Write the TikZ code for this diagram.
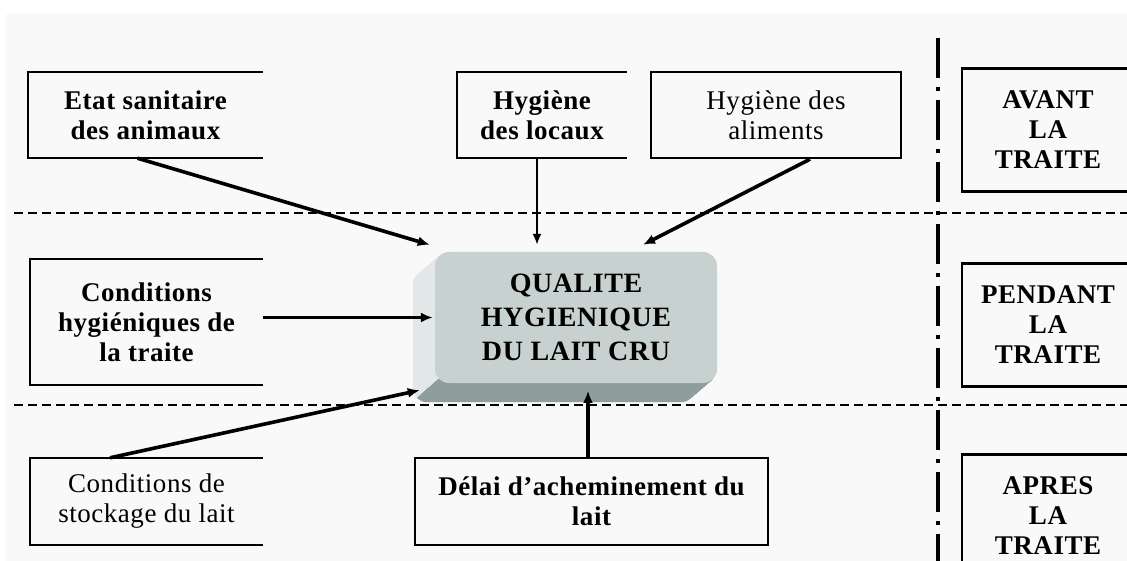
\documentclass[tikz,border=0pt]{standalone}
\usepackage{fontspec}
\setmainfont{Liberation Serif}
\newfontfamily\boxfont[LetterSpace=2]{Liberation Serif}
\usetikzlibrary{arrows.meta,calc,backgrounds}

\definecolor{pagebg}{RGB}{249,249,249}
\definecolor{facecol}{RGB}{199,209,208}
\definecolor{sidelight}{RGB}{226,232,232}
\definecolor{sidedark}{RGB}{143,158,156}

\tikzset{
  lbl/.style={font=\boxfont\fontsize{27}{30}\selectfont\bfseries, align=center, inner sep=0pt},
  lblreg/.style={font=\boxfont\fontsize{27}{30}\selectfont, align=center, inner sep=0pt},
  frame/.style={draw, line width=2.4pt},
  openside/.style={line width=2.4pt},
  arr/.style={-{Latex[length=12pt,width=10pt]}, line width=3.6pt},
  arrthin/.style={-{Latex[length=11pt,width=9pt]}, line width=2pt},
  sep/.style={line width=2pt, dash pattern=on 9pt off 5pt},
  phase/.style={line width=4pt, dash pattern=on 40pt off 9pt on 4pt off 9pt},
  facebox/.style={fill=facecol, rounded corners=14pt, minimum width=282pt, minimum height=131pt,
    inner sep=0pt, align=center, font=\boxfont\fontsize{28}{34}\selectfont\bfseries}
}

\begin{document}
\begin{tikzpicture}[x=1pt,y=-1pt]
\useasboundingbox (0,0) rectangle (1127,561);

% factor boxes, top row
\node[lbl, minimum width=235pt, minimum height=86pt] (etat) at (145.5,115) {Etat sanitaire\\des animaux};
\node[lbl, minimum width=170pt, minimum height=86pt] (locaux) at (542,115) {Hygiène\\des locaux};
\node[lblreg, frame, minimum width=250pt, minimum height=86pt] (aliments) at (776,115) {Hygiène des\\aliments};

% factor boxes, middle row
\node[lbl, minimum width=233pt, minimum height=125pt] (traite) at (146.5,322) {Conditions\\hygiéniques de\\la traite};

% central result
\node[facebox] (q) at (576,317.5) {QUALITE\\HYGIENIQUE\\DU LAIT CRU};

% factor boxes, bottom row
\node[lblreg, minimum width=233pt, minimum height=87pt] (stockage) at (146.5,501.5) {Conditions de\\stockage du lait};
\node[lbl, frame, minimum width=353pt, minimum height=87pt] (delai) at (591.5,501.5) {Délai d’acheminement du\\lait};

% phase boxes on the right
\node[lbl, frame, minimum width=172pt, minimum height=123pt] (avant) at (1048,130) {AVANT\\LA\\TRAITE};
\node[lbl, frame, minimum width=172pt, minimum height=123pt] (pendant) at (1048,325) {PENDANT\\LA\\TRAITE};
\node[lbl, frame, minimum width=172pt, minimum height=123pt] (apres) at (1048,516) {APRES\\LA\\TRAITE};

% boxes left open on their right side
\foreach \b in {etat,locaux,traite,stockage}
  \draw[openside] (\b.north east) -- (\b.north west) -- (\b.south west) -- (\b.south east);

\begin{scope}[on background layer]
  \fill[white] (0,0) rectangle (1127,561);
  \fill[pagebg] (6,14) rectangle (1127,561);
  % extruded sides of the central block
  \foreach \t in {1,...,22}
    \fill[sidelight, rounded corners=14pt] ($(q.north west)+(-\t,0.86*\t)$) rectangle ($(q.south east)+(-\t,0.86*\t)$);
  \begin{scope}
    \clip ($(q.south west)+(4,-4)$) -- ($(q.south west)+(-40,34)$) -- ($(q.south east)+(40,34)$) -- ($(q.south east)+(40,-4)$) -- cycle;
    \foreach \t in {1,...,22}
      \fill[sidedark, rounded corners=14pt] ($(q.north west)+(-\t,0.86*\t)$) rectangle ($(q.south east)+(-\t,0.86*\t)$);
  \end{scope}
\end{scope}

% period separators
\draw[sep] (14,213) -- (1127,213);
\draw[sep] (14,405) -- (1127,405);
\draw[phase] (938,38) -- (938,561);

% influences on milk quality
\draw[arr] ($(etat.south)+(-8,0)$) -- ($(q.north west)+(-5,-7)$);
\draw[arrthin] ($(locaux.south)+(-5,0)$) -- ($(q.north)+(-39,-7)$);
\draw[arr] ($(aliments.south)+(34,0)$) -- ($(q.north)+(67,-7)$);
\draw[arr, line width=3pt] (q.west -| traite.east) -- ($(q.west)+(-2,0)$);
\draw[arr] ($(stockage.north)+(-36.5,0)$) -- ($(q.south west)+(-15,7)$);
\draw[arr] ($(delai.north)+(-3.5,0)$) -- ($(delai.north)+(-3.5,-66)$);
\end{tikzpicture}
\end{document}
